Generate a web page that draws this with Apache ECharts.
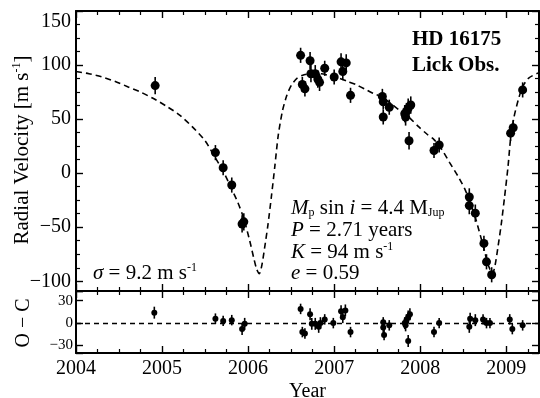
<!DOCTYPE html>
<html>
<head>
<meta charset="utf-8">
<script src="https://cdn.jsdelivr.net/npm/echarts@6/dist/echarts.min.js"></script>
<style>
    html, body { margin: 0; background: #fff; }
    #chart { width: 540px; height: 398px; }
</style>
</head>
<body>
<div id="chart"></div>
<script>
// Keplerian fit
const fitYears = [
    2004.00, 2004.15, 2004.30, 2004.45, 2004.60, 2004.75, 2004.90, 2005.05, 2005.20, 2005.35,
    2005.50, 2005.62, 2005.71, 2005.81, 2005.88, 2005.95, 2006.02, 2006.07, 2006.10, 2006.13,
    2006.16, 2006.19, 2006.23, 2006.27, 2006.31, 2006.35, 2006.40, 2006.45, 2006.50, 2006.57,
    2006.65, 2006.75, 2006.85, 2006.95, 2007.05, 2007.15, 2007.25, 2007.35, 2007.45, 2007.57,
    2007.68, 2007.78, 2007.88, 2007.98, 2008.08, 2008.16, 2008.25, 2008.34, 2008.44, 2008.52,
    2008.58, 2008.64, 2008.70, 2008.75, 2008.79, 2008.84, 2008.87, 2008.90, 2008.94, 2008.98,
    2009.02, 2009.05, 2009.09, 2009.14, 2009.19, 2009.26, 2009.38,
]
const fitVelocities = [
    94, 92, 89, 85, 80, 75, 69, 62, 54, 43,
    30, 14, 2, -15, -27, -42, -63, -80, -89, -93,
    -85, -70, -48, -22, 6, 35, 58, 72, 81, 88,
    91, 92, 92, 90, 88, 85, 82, 78, 74, 70,
    63, 57, 51, 43, 36, 31, 22, 10, -3, -15,
    -27, -41, -58, -73, -85, -93, -85, -70, -48, -22,
    6, 32, 52, 68, 80, 88, 93,
]

// Lick Observatory velocities (m/s)
const rvYears = [
    2004.92, 2005.62, 2005.71, 2005.81, 2005.93, 2005.95, 2006.61, 2006.63, 2006.66, 2006.72,
    2006.73, 2006.78, 2006.81, 2006.83, 2006.89, 2007.00, 2007.08, 2007.10, 2007.14, 2007.19,
    2007.56, 2007.57, 2007.57, 2007.64, 2007.82, 2007.83, 2007.84, 2007.86, 2007.87, 2007.89,
    2008.16, 2008.22, 2008.57, 2008.57, 2008.64, 2008.74, 2008.77, 2008.83, 2009.05, 2009.08,
    2009.19,
]
const rvVelocities = [
    81, 19, 5, -11, -47, -45, 109, 82, 78, 104,
    92, 92, 87, 84, 97, 89, 103, 94, 102, 72,
    71, 66, 52, 61, 55, 52, 57, 60, 30, 63,
    21, 26, -22, -30, -37, -65, -82, -94, 37, 42,
    77,
]
const rvErrors = [
    8, 7, 7, 7, 8, 8, 7, 7, 7, 8,
    8, 8, 8, 8, 7, 7, 8, 8, 8, 7,
    7, 7, 7, 7, 8, 8, 8, 9, 8, 8,
    7, 7, 8, 8, 8, 7, 7, 7, 7, 7,
    7,
]

// residuals, observed minus computed (m/s)
const ocYears = [
    2004.91, 2005.62, 2005.71, 2005.81, 2005.93, 2005.96, 2006.61, 2006.63, 2006.66, 2006.72,
    2006.74, 2006.78, 2006.82, 2006.84, 2006.89, 2006.99, 2007.08, 2007.10, 2007.13, 2007.19,
    2007.57, 2007.57, 2007.58, 2007.64, 2007.82, 2007.83, 2007.84, 2007.86, 2007.86, 2007.88,
    2008.16, 2008.22, 2008.57, 2008.58, 2008.64, 2008.73, 2008.77, 2008.81, 2009.04, 2009.07,
    2009.19,
]
const ocResiduals = [
    14, 6, 3, 4, -8, -1, 19, -12, -14, 12,
    -1, -1, -5, 0, 5, 0, 16, 8, 17, -12,
    1, -6, -16, -3, 0, -3, 4, 8, -24, 12,
    -12, 0, -5, 6, 4, 5, 0, 0, 5, -8,
    -3,
]
const ocErrors = rvErrors

const serif = 'Liberation Serif'
const minus = v => String(v).replace('-', '\u2212')

const chart = echarts.init(document.getElementById('chart'), null, { renderer: 'canvas' })

const frameAxis = (extra) => Object.assign({
    type: 'value',
    axisLine: { show: true, onZero: false, lineStyle: { color: '#000', width: 2 } },
    axisTick: { show: true, inside: true, length: 7, lineStyle: { color: '#000', width: 1.4 } },
    minorTick: { show: false },
    splitLine: { show: false },
    axisLabel: { show: false },
}, extra)

const yearAxis = (gridIndex, position, labels) => frameAxis({
    gridIndex, position,
    min: 2004, max: 2009.38, interval: 1,
    minorTick: { show: true, splitNumber: 4, length: 4, lineStyle: { color: '#000', width: 1.2 } },
    axisLabel: {
        show: labels, margin: 6, color: '#000', fontFamily: serif, fontSize: 20,
        formatter: v => Number.isInteger(v) ? String(v) : '',
    },
})

const rvAxis = (position, labels) => frameAxis({
    gridIndex: 0, position,
    min: -109, max: 150, splitNumber: 5,
    minorTick: { show: true, splitNumber: 4, length: 4, lineStyle: { color: '#000', width: 1.2 } },
    axisLabel: {
        show: labels, margin: 5, color: '#000', fontFamily: serif, fontSize: 20,
        // the top label sits a little below the frame corner
        formatter: v => v === 150 ? '{top|150}' : v % 50 === 0 ? minus(v) : '',
        rich: { top: { fontFamily: serif, fontSize: 20, color: '#000', padding: [22, 0, 0, 0] } },
    },
})

const ocAxis = (position, labels) => frameAxis({
    gridIndex: 1, position,
    min: -40, max: 43, splitNumber: 3,
    axisLabel: {
        show: labels, margin: 3, color: '#000', fontFamily: serif, fontSize: 15,
        formatter: v => v % 30 === 0 ? minus(v) : '',
    },
})

const errorBar = (params, api) => {
    const x = api.value(0)
    const y = api.value(1)
    const e = api.value(2)
    const lo = api.coord([x, y - e])
    const hi = api.coord([x, y + e])
    return {
        type: 'line',
        shape: { x1: lo[0], y1: lo[1], x2: hi[0], y2: hi[1] },
        style: { stroke: '#000', lineWidth: 1.6 },
    }
}

const base = { fontFamily: serif, fontSize: 21, lineHeight: 22, fill: '#000' }
const rich = {
    i: { fontFamily: serif, fontSize: 21, fontStyle: 'italic', lineHeight: 22 },
    sub: { fontFamily: serif, fontSize: 12, lineHeight: 4, verticalAlign: 'bottom' },
    sup: { fontFamily: serif, fontSize: 12, lineHeight: 10, verticalAlign: 'top' },
}
const label = (x, y, text, extra) => ({
    type: 'text', x, y, silent: true,
    style: Object.assign({ text, rich, textAlign: 'left', textVerticalAlign: 'middle' }, base, extra),
})

chart.setOption({
    animation: false,
    backgroundColor: '#fff',
    grid: [
        { left: 76, right: 1, top: 11, height: 280, outerBoundsMode: 'none' },
        { left: 76, right: 1, top: 291, height: 62, outerBoundsMode: 'none' },
    ],
    xAxis: [
        yearAxis(0, 'bottom', false),
        yearAxis(0, 'top', false),
        Object.assign(yearAxis(1, 'bottom', true), {
            name: 'Year', nameLocation: 'middle', nameGap: 29,
            nameTextStyle: { color: '#000', fontFamily: serif, fontSize: 20 },
        }),
        yearAxis(1, 'top', false),
    ],
    yAxis: [
        rvAxis('left', true),
        rvAxis('right', false),
        ocAxis('left', true),
        ocAxis('right', false),
    ],
    series: [
        {
            type: 'line', xAxisIndex: 0, yAxisIndex: 0,
            data: fitYears.map((x, i) => [x, fitVelocities[i]]),
            showSymbol: false, smooth: 0.25, silent: true,
            lineStyle: { color: '#000', width: 1.6, type: [6, 4] },
        },
        {
            type: 'custom', xAxisIndex: 0, yAxisIndex: 0,
            data: rvYears.map((x, i) => [x, rvVelocities[i], rvErrors[i]]),
            renderItem: errorBar,
        },
        {
            type: 'scatter', xAxisIndex: 0, yAxisIndex: 0,
            data: rvYears.map((x, i) => [x, rvVelocities[i]]),
            symbol: 'circle', symbolSize: 9,
            itemStyle: { color: '#000', opacity: 1 },
        },
        {
            type: 'custom', xAxisIndex: 2, yAxisIndex: 2,
            data: ocYears.map((x, i) => [x, ocResiduals[i], ocErrors[i]]),
            renderItem: errorBar,
        },
        {
            type: 'scatter', xAxisIndex: 2, yAxisIndex: 2,
            data: ocYears.map((x, i) => [x, ocResiduals[i]]),
            symbol: 'circle', symbolSize: 6,
            itemStyle: { color: '#000', opacity: 1 },
            markLine: {
                silent: true, symbol: ['none', 'none'], label: { show: false },
                lineStyle: { color: '#000', width: 1.4, type: [5, 4] },
                data: [{ yAxis: 0 }],
            },
        },
    ],
    graphic: [
        label(412, 40, 'HD 16175', { fontWeight: 'bold' }),
        label(412, 66, 'Lick Obs.', { fontWeight: 'bold' }),
        label(291, 208, '{i|M}{sub|p} sin {i|i} = 4.4 M{sub|Jup}'),
        label(291, 230, '{i|P} = 2.71 years'),
        label(291, 252, '{i|K} = 94 m s{sup|-1}'),
        label(291, 273, '{i|e} = 0.59'),
        label(93, 273, '{i|\u03c3} = 9.2 m s{sup|-1}'),
        {
            type: 'text', x: 22, y: 150, rotation: Math.PI / 2, silent: true,
            style: Object.assign({ text: 'Radial Velocity [m s{sup|-1}]', rich, textAlign: 'center', textVerticalAlign: 'middle' }, base),
        },
        {
            type: 'text', x: 24, y: 323, rotation: Math.PI / 2, silent: true,
            style: Object.assign({ text: 'O \u2212 C', rich, textAlign: 'center', textVerticalAlign: 'middle' }, base, { fontSize: 20 }),
        },
    ],
})
</script>
</body>
</html>
